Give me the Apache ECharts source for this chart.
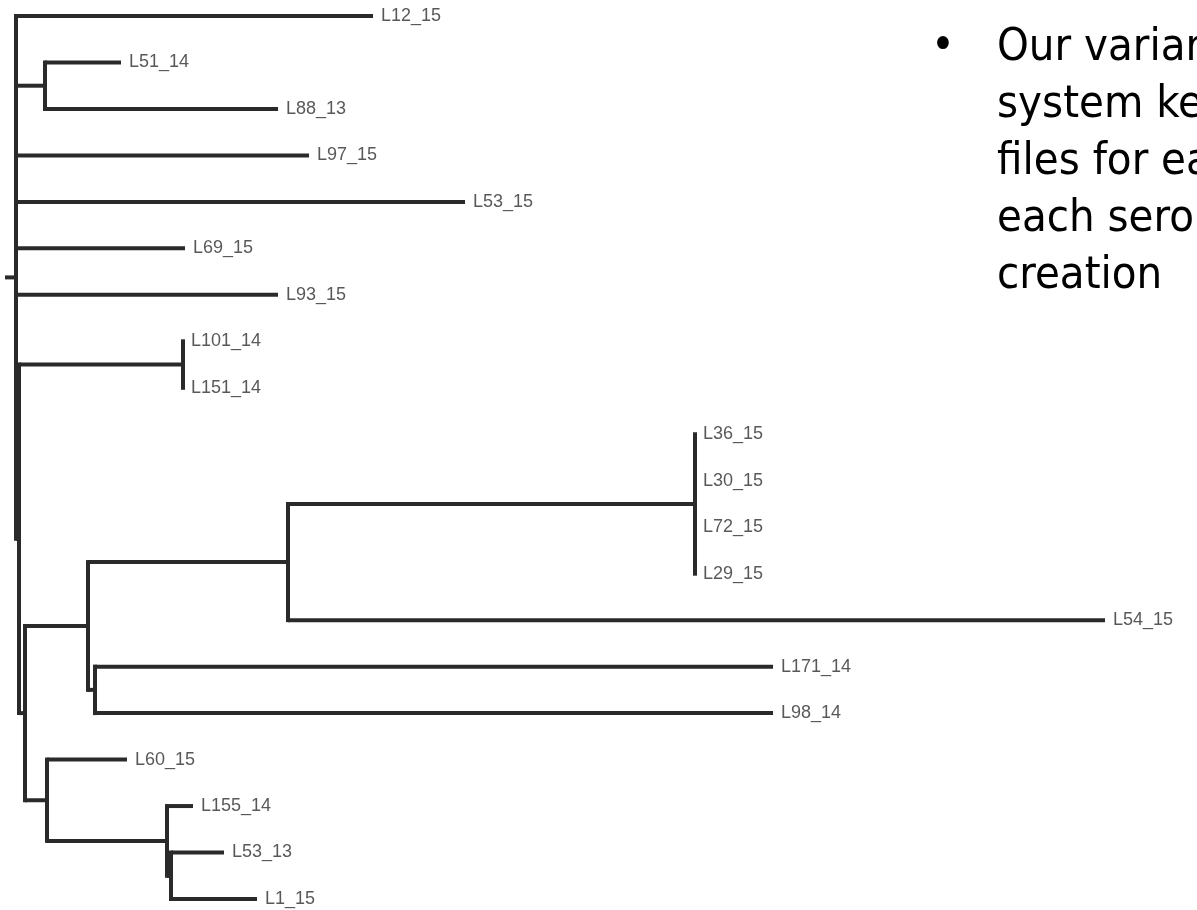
<!DOCTYPE html>
<html>
<head>
<meta charset="utf-8">
<style>
  html, body { margin: 0; padding: 0; background: #ffffff; }
  #chart { width: 1197px; height: 910px; }
</style>
<script src="https://cdn.jsdelivr.net/npm/echarts@6/dist/echarts.min.js"></script>
</head>
<body>
<div id="chart"></div>
<script>
// ---- Tree data (pre-order): node name, parent index, branch length ----
const nodeNames = ['root', 'L12_15', 'n1', 'L51_14', 'L88_13', 'L97_15', 'L53_15', 'L69_15', 'L93_15',
  'n2', 'n3', 'L101_14', 'L151_14', 'n4', 'n5', 'n6', 'n7', 'L36_15', 'L30_15', 'L72_15', 'L29_15',
  'L54_15', 'n8', 'L171_14', 'L98_14', 'n9', 'L60_15', 'n10', 'L155_14', 'n11', 'L53_13', 'L1_15'];
const parentIndex = [-1, 0, 0, 2, 2, 0, 0, 0, 0,
  0, 9, 10, 10, 9, 13, 14, 15, 16, 16, 16, 16,
  15, 14, 22, 22, 13, 25, 25, 27, 27, 29, 29];
const branchLength = [11, 357, 29, 76, 233, 293, 449, 169, 262,
  3, 164, 0, 0, 6, 63, 200, 407, 0, 0, 0, 0,
  817, 7, 678, 678, 22, 80, 120, 26, 4, 53, 86];

// ---- Side text (slide bullet, cut by the right edge) ----
const bulletLines = ['Our varian', 'system ke', 'files for ea', 'each sero', 'creation'];

// ---- Build layout from the tree ----
const n = nodeNames.length;
const children = nodeNames.map(() => []);
parentIndex.forEach((p, i) => { if (p >= 0) children[p].push(i); });
const depth = new Array(n);
for (let i = 0; i < n; i++) {
  depth[i] = (parentIndex[i] < 0 ? 0 : depth[parentIndex[i]]) + branchLength[i];
}
const yPos = new Array(n);
let leafCounter = 0;
(function assign(i) {
  if (children[i].length === 0) { yPos[i] = leafCounter++; return; }
  children[i].forEach(assign);
  const c = children[i];
  yPos[i] = (yPos[c[0]] + yPos[c[c.length - 1]]) / 2;
})(0);
const leafCount = leafCounter;

const segments = [];
// root stem
segments.push([0, yPos[0], depth[0], yPos[0], 0]);
for (let i = 0; i < n; i++) {
  const p = parentIndex[i];
  if (p >= 0 && branchLength[i] > 0) segments.push([depth[p], yPos[i], depth[i], yPos[i], 0]);
  const c = children[i];
  if (c.length) segments.push([depth[i], yPos[c[0]], depth[i], yPos[c[c.length - 1]], 1]);
}
const leafLabels = [];
for (let i = 0; i < n; i++) {
  if (children[i].length === 0) leafLabels.push([depth[i], yPos[i], nodeNames[i]]);
}

const chart = echarts.init(document.getElementById('chart'), null, { renderer: 'canvas' });
const lineColor = '#2a2a2a';
const slideFont = '45px "DejaVu Sans Condensed", "DejaVu Sans", sans-serif';
chart.setOption({
  animation: false,
  backgroundColor: '#ffffff',
  grid: { left: 0, right: 0, top: 16, bottom: 11, containLabel: false },
  xAxis: { type: 'value', min: -5, max: 1192, show: false },
  yAxis: { type: 'value', min: 0, max: leafCount - 1, inverse: true, show: false },
  series: [
    {
      type: 'custom',
      clip: false,
      silent: true,
      encode: { x: [0, 2], y: [1, 3] },
      data: segments,
      renderItem: function (params, api) {
        const p1 = api.coord([api.value(0), api.value(1)]);
        const p2 = api.coord([api.value(2), api.value(3)]);
        return {
          type: 'line',
          shape: { x1: p1[0], y1: p1[1], x2: p2[0], y2: p2[1] },
          style: { stroke: lineColor, lineWidth: 4, lineCap: api.value(4) === 1 ? 'square' : 'butt' }
        };
      }
    },
    {
      type: 'scatter',
      symbolSize: 0,
      silent: true,
      data: leafLabels,
      label: {
        show: true,
        position: 'right',
        distance: 8,
        formatter: p => p.data[2],
        fontFamily: 'Liberation Sans, Arial, sans-serif',
        fontSize: 18,
        color: '#2e2e2e'
      }
    }
  ],
  graphic: [
    {
      type: 'text',
      x: 943, y: 47,
      style: { text: '•', font: slideFont, fill: '#000000', align: 'center', verticalAlign: 'middle' }
    }
  ].concat(bulletLines.map((t, i) => ({
    type: 'text',
    x: 997, y: 48 + 57 * i,
    style: {
      text: t,
      font: slideFont,
      fill: '#000000',
      verticalAlign: 'middle',
      align: 'left'
    }
  })))
});
</script>
</body>
</html>
